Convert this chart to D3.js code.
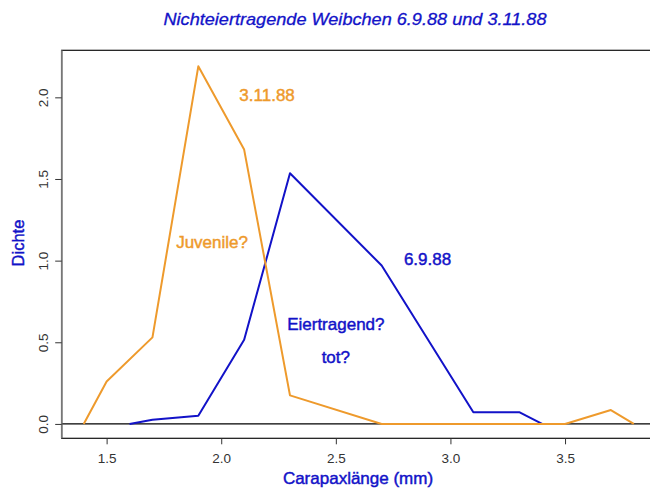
<!DOCTYPE html>
<html>
<head>
<meta charset="utf-8">
<script src="https://cdn.jsdelivr.net/npm/d3@7"></script>
<style>
  html, body { margin: 0; padding: 0; background: #fff; }
  svg { display: block; font-family: "Liberation Sans", Arial, Helvetica, sans-serif; }
</style>
</head>
<body>
<svg id="chart" width="650" height="493"></svg>
<script>
// ---- data ----
const novX = [1.4, 1.5, 1.7, 1.9, 2.1, 2.3, 2.7, 3.5, 3.7, 3.8];          // 3.11.88
const novY = [0, 0.26, 0.53, 2.19, 1.68, 0.175, 0, 0, 0.085, 0];
const sepX = [1.6, 1.7, 1.9, 2.1, 2.3, 2.7, 3.1, 3.3, 3.4];                // 6.9.88
const sepY = [0, 0.025, 0.05, 0.515, 1.535, 0.97, 0.072, 0.072, 0];
const xTicks = [1.5, 2.0, 2.5, 3.0, 3.5];
const yTicks = [0.0, 0.5, 1.0, 1.5, 2.0];
const annLabels = ["3.11.88", "Juvenile?", "6.9.88", "Eiertragend?", "tot?"];
const annX = [2.2, 1.96, 2.9, 2.5, 2.5];
const annY = [2.0, 1.1, 1.0, 0.6, 0.4];
const annSeries = ["nov", "nov", "sep", "sep", "sep"];
const titleText = "Nichteiertragende Weibchen 6.9.88 und 3.11.88";
const xLabel = "Carapaxlänge (mm)";
const yLabel = "Dichte";

// ---- styles ----
const BLUE = "#1212c8";
const ORANGE = "#ee9a2c";
const colors = { nov: ORANGE, sep: BLUE };

const svg = d3.select("#chart");
const L = 61.7, R = 655.8, T = 50.3, B = 438.3;

const x = d3.scaleLinear().domain([1.304, 3.896]).range([L, R]);
const y = d3.scaleLinear().domain([-0.088, 2.288]).range([B, T]);

// box
svg.append("rect")
  .attr("x", L).attr("y", T).attr("width", R - L).attr("height", B - T)
  .attr("fill", "none").attr("stroke", "#111").attr("stroke-width", 1.2);

// zero line
svg.append("line")
  .attr("x1", L).attr("x2", R).attr("y1", y(0)).attr("y2", y(0))
  .attr("stroke", "#000").attr("stroke-width", 1.2);

// x axis
const gx = svg.append("g").attr("transform", `translate(0,${B})`)
  .call(d3.axisBottom(x).tickValues(xTicks).tickFormat(d3.format(".1f")).tickSize(6).tickPadding(9));
gx.select(".domain").remove();
gx.selectAll(".tick line").attr("stroke", "#333");
gx.selectAll(".tick text").attr("fill", "#333").attr("font-size", 13.5)
  .attr("font-family", "Liberation Sans, Arial, sans-serif").attr("dy", "0.71em");

// y axis
const gy = svg.append("g").attr("transform", `translate(${L},0)`)
  .call(d3.axisLeft(y).tickValues(yTicks).tickFormat(d3.format(".1f")).tickSize(6.5));
gy.select(".domain").attr("stroke", "#777").attr("stroke-width", 1.6)
  .attr("d", `M0,${T}V${B}`);
gy.selectAll(".tick line").attr("stroke", "#333");
gy.selectAll(".tick text")
  .attr("x", null).attr("dy", null)
  .attr("text-anchor", "middle")
  .attr("transform", "translate(-13.4,0) rotate(-90)")
  .attr("fill", "#333").attr("font-size", 13.5)
  .attr("font-family", "Liberation Sans, Arial, sans-serif");

// lines
const line = d3.line().x(d => x(d[0])).y(d => y(d[1]));
const sepData = sepX.map((v, i) => [v, sepY[i]]);
const novData = novX.map((v, i) => [v, novY[i]]);
svg.append("path").datum(sepData).attr("d", line)
  .attr("fill", "none").attr("stroke", BLUE).attr("stroke-width", 2).attr("stroke-linejoin", "round");
svg.append("path").datum(novData).attr("d", line)
  .attr("fill", "none").attr("stroke", ORANGE).attr("stroke-width", 2).attr("stroke-linejoin", "round");

// annotations
annLabels.forEach((t, i) => {
  svg.append("text")
    .attr("x", x(annX[i])).attr("y", y(annY[i]))
    .attr("dy", "0.23em")
    .attr("text-anchor", "middle")
    .attr("font-size", 17)
    .attr("fill", colors[annSeries[i]])
    .attr("stroke", colors[annSeries[i]]).attr("stroke-width", 0.45)
    .text(t);
});

// title
svg.append("text")
  .attr("x", 355).attr("y", 25)
  .attr("text-anchor", "middle")
  .attr("font-size", 16.5).attr("font-style", "italic")
  .attr("textLength", 383).attr("lengthAdjust", "spacingAndGlyphs")
  .attr("fill", BLUE).attr("stroke", BLUE).attr("stroke-width", 0.3)
  .text(titleText);

// axis titles
svg.append("text")
  .attr("x", 358).attr("y", 484)
  .attr("text-anchor", "middle")
  .attr("font-size", 17)
  .attr("fill", BLUE).attr("stroke", BLUE).attr("stroke-width", 0.45)
  .text(xLabel);

svg.append("text")
  .attr("transform", "translate(24,243) rotate(-90)")
  .attr("text-anchor", "middle")
  .attr("font-size", 16.5)
  .attr("fill", BLUE).attr("stroke", BLUE).attr("stroke-width", 0.45)
  .text(yLabel);
</script>
</body>
</html>
